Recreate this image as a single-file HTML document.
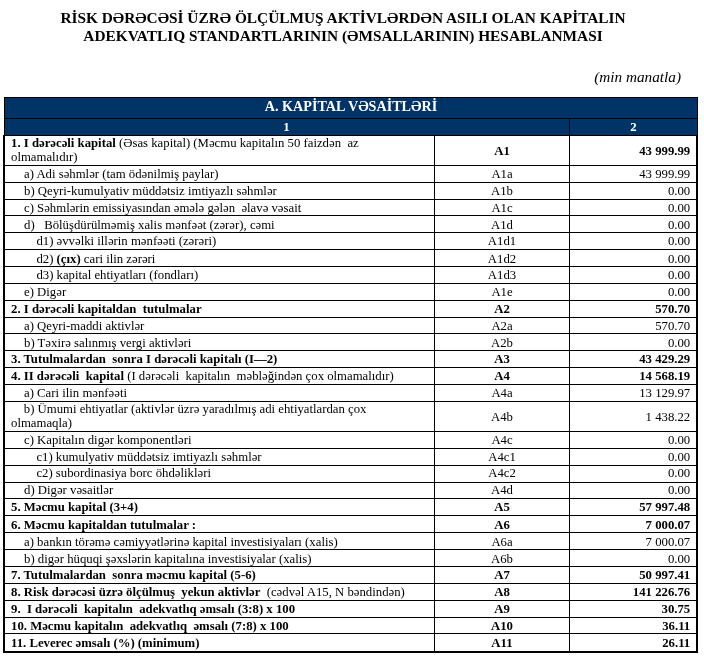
<!DOCTYPE html><html lang="az"><head><meta charset="utf-8"><title>Kapital adekvatlığı</title><style>
html,body{margin:0;padding:0;background:#fff;}
body{width:704px;height:660px;position:relative;overflow:hidden;font-family:"Liberation Serif","DejaVu Serif",serif;color:#000;}
.t{position:absolute;left:0;width:704px;text-align:center;font-weight:bold;font-size:15.35px;line-height:18.2px;white-space:nowrap;}
.u{position:absolute;font-style:italic;font-size:15.25px;line-height:18px;white-space:nowrap;}
.hd{position:absolute;background:#003366;}
.ht{position:absolute;color:#fff;font-weight:bold;text-align:center;white-space:nowrap;}
.l{position:absolute;background:#000;}
.c{position:absolute;font-size:12.76px;line-height:14px;white-space:nowrap;}
.c.b{font-weight:bold;}
.c2{left:435px;width:134px;text-align:center;}
.c3{left:570px;width:120.2px;text-align:right;}
</style></head><body>
<div class="t" style="top:9px;left:-9px">RİSK DƏRƏCƏSİ ÜZRƏ ÖLÇÜLMUŞ AKTİVLƏRDƏN ASILI OLAN KAPİTALIN</div>
<div class="t" style="top:27.3px;left:-9px">ADEKVATLIQ STANDARTLARININ (ƏMSALLARININ) HESABLANMASI</div>
<div class="u" style="top:67.5px;right:23px">(min manatla)</div>
<div class="hd" style="left:4px;top:97px;width:694px;height:38px"></div>
<div class="ht" style="left:4px;width:694px;top:95.6px;line-height:20px;font-size:14.15px">A. KAPİTAL VƏSAİTLƏRİ</div>
<div class="ht" style="left:4px;width:565px;top:119px;line-height:16px;font-size:12.8px">1</div>
<div class="ht" style="left:569px;width:129px;top:119px;line-height:16px;font-size:12.8px">2</div>
<div class="l" style="left:4px;top:97px;width:694px;height:1px"></div>
<div class="l" style="left:4px;top:118px;width:694px;height:1px"></div>
<div class="l" style="left:569px;top:118px;width:1px;height:17px"></div>
<div class="l" style="left:4px;top:97px;width:1px;height:38px"></div>
<div class="l" style="left:697px;top:97px;width:1px;height:38px"></div>
<div class="l" style="left:3px;top:135px;width:2px;height:518px"></div>
<div class="l" style="left:696px;top:135px;width:2px;height:518px"></div>
<div class="l" style="left:434px;top:135px;width:1px;height:517px"></div>
<div class="l" style="left:569px;top:135px;width:1px;height:517px"></div>
<div class="l" style="left:3px;top:135px;width:695px;height:1px"></div>
<div class="l" style="left:3px;top:165px;width:695px;height:1px"></div>
<div class="l" style="left:3px;top:182px;width:695px;height:1px"></div>
<div class="l" style="left:3px;top:199px;width:695px;height:1px"></div>
<div class="l" style="left:3px;top:215px;width:695px;height:1px"></div>
<div class="l" style="left:3px;top:232px;width:695px;height:1px"></div>
<div class="l" style="left:3px;top:249px;width:695px;height:1px"></div>
<div class="l" style="left:3px;top:266px;width:695px;height:1px"></div>
<div class="l" style="left:3px;top:283px;width:695px;height:1px"></div>
<div class="l" style="left:3px;top:300px;width:695px;height:1px"></div>
<div class="l" style="left:3px;top:317px;width:695px;height:1px"></div>
<div class="l" style="left:3px;top:333px;width:695px;height:1px"></div>
<div class="l" style="left:3px;top:350px;width:695px;height:1px"></div>
<div class="l" style="left:3px;top:367px;width:695px;height:1px"></div>
<div class="l" style="left:3px;top:384px;width:695px;height:1px"></div>
<div class="l" style="left:3px;top:401px;width:695px;height:1px"></div>
<div class="l" style="left:3px;top:431px;width:695px;height:1px"></div>
<div class="l" style="left:3px;top:448px;width:695px;height:1px"></div>
<div class="l" style="left:3px;top:465px;width:695px;height:1px"></div>
<div class="l" style="left:3px;top:482px;width:695px;height:1px"></div>
<div class="l" style="left:3px;top:498px;width:695px;height:1px"></div>
<div class="l" style="left:3px;top:515px;width:695px;height:1px"></div>
<div class="l" style="left:3px;top:532px;width:695px;height:1px"></div>
<div class="l" style="left:3px;top:549px;width:695px;height:1px"></div>
<div class="l" style="left:3px;top:566px;width:695px;height:1px"></div>
<div class="l" style="left:3px;top:583px;width:695px;height:1px"></div>
<div class="l" style="left:3px;top:600px;width:695px;height:1px"></div>
<div class="l" style="left:3px;top:617px;width:695px;height:1px"></div>
<div class="l" style="left:3px;top:633px;width:695px;height:1px"></div>
<div class="l" style="left:3px;top:651px;width:695px;height:2px"></div>
<div class="c" style="top:136px;left:11.0px"><b>1. I dərəcəli kapital</b> (Əsas kapital) (Məcmu kapitalın 50 faizdən&nbsp; az<br>olmamalıdır)</div>
<div class="c c2 b" style="top:144px">A1</div>
<div class="c c3 b" style="top:144px">43 999.99</div>
<div class="c" style="top:167px;left:24.0px">a) Adi səhmlər (tam ödənilmiş paylar)</div>
<div class="c c2" style="top:167px">A1a</div>
<div class="c c3" style="top:167px">43 999.99</div>
<div class="c" style="top:184px;left:24.0px">b) Qeyri-kumulyativ müddətsiz imtiyazlı səhmlər</div>
<div class="c c2" style="top:184px">A1b</div>
<div class="c c3" style="top:184px">0.00</div>
<div class="c" style="top:201px;left:24.0px">c) Səhmlərin emissiyasından əmələ gələn&nbsp; əlavə vəsait</div>
<div class="c c2" style="top:201px">A1c</div>
<div class="c c3" style="top:201px">0.00</div>
<div class="c" style="top:218px;left:24.0px">d)&nbsp;&nbsp; Bölüşdürülməmiş xalis mənfəət (zərər), cəmi</div>
<div class="c c2" style="top:218px">A1d</div>
<div class="c c3" style="top:218px">0.00</div>
<div class="c" style="top:234px;left:36.4px">d1) əvvəlki illərin mənfəəti (zərəri)</div>
<div class="c c2" style="top:234px">A1d1</div>
<div class="c c3" style="top:234px">0.00</div>
<div class="c" style="top:252px;left:36.4px">d2) <b>(çıx)</b> cari ilin zərəri</div>
<div class="c c2" style="top:252px">A1d2</div>
<div class="c c3" style="top:252px">0.00</div>
<div class="c" style="top:268px;left:36.4px">d3) kapital ehtiyatları (fondları)</div>
<div class="c c2" style="top:268px">A1d3</div>
<div class="c c3" style="top:268px">0.00</div>
<div class="c" style="top:285px;left:24.0px">e) Digər</div>
<div class="c c2" style="top:285px">A1e</div>
<div class="c c3" style="top:285px">0.00</div>
<div class="c b" style="top:302px;left:11.0px">2. I dərəcəli kapitaldan&nbsp; tutulmalar</div>
<div class="c c2 b" style="top:302px">A2</div>
<div class="c c3 b" style="top:302px">570.70</div>
<div class="c" style="top:319px;left:24.0px">a) Qeyri-maddi aktivlər</div>
<div class="c c2" style="top:319px">A2a</div>
<div class="c c3" style="top:319px">570.70</div>
<div class="c" style="top:336px;left:24.0px">b) Təxirə salınmış vergi aktivləri</div>
<div class="c c2" style="top:336px">A2b</div>
<div class="c c3" style="top:336px">0.00</div>
<div class="c b" style="top:352px;left:11.0px">3. Tutulmalardan&nbsp; sonra I dərəcəli kapitalı (I—2)</div>
<div class="c c2 b" style="top:352px">A3</div>
<div class="c c3 b" style="top:352px">43 429.29</div>
<div class="c" style="top:369px;left:11.0px"><b>4. II dərəcəli&nbsp; kapital</b> (I dərəcəli&nbsp; kapitalın&nbsp; məbləğindən çox olmamalıdır)</div>
<div class="c c2 b" style="top:369px">A4</div>
<div class="c c3 b" style="top:369px">14 568.19</div>
<div class="c" style="top:386px;left:24.0px">a) Cari ilin mənfəəti</div>
<div class="c c2" style="top:386px">A4a</div>
<div class="c c3" style="top:386px">13 129.97</div>
<div class="c" style="top:402px;left:11.0px">&nbsp;&nbsp;&nbsp;&nbsp;b) Ümumi ehtiyatlar (aktivlər üzrə yaradılmış adi ehtiyatlardan çox<br>olmamaqla)</div>
<div class="c c2" style="top:410px">A4b</div>
<div class="c c3" style="top:410px">1 438.22</div>
<div class="c" style="top:433px;left:24.0px">c) Kapitalın digər komponentləri</div>
<div class="c c2" style="top:433px">A4c</div>
<div class="c c3" style="top:433px">0.00</div>
<div class="c" style="top:450px;left:36.4px">c1) kumulyativ müddətsiz imtiyazlı səhmlər</div>
<div class="c c2" style="top:450px">A4c1</div>
<div class="c c3" style="top:450px">0.00</div>
<div class="c" style="top:466px;left:36.4px">c2) subordinasiya borc öhdəlikləri</div>
<div class="c c2" style="top:466px">A4c2</div>
<div class="c c3" style="top:466px">0.00</div>
<div class="c" style="top:483px;left:24.0px">d) Digər vəsaitlər</div>
<div class="c c2" style="top:483px">A4d</div>
<div class="c c3" style="top:483px">0.00</div>
<div class="c b" style="top:500px;left:11.0px">5. Məcmu kapital (3+4)</div>
<div class="c c2 b" style="top:500px">A5</div>
<div class="c c3 b" style="top:500px">57 997.48</div>
<div class="c b" style="top:518px;left:11.0px">6. Məcmu kapitaldan tutulmalar :</div>
<div class="c c2 b" style="top:518px">A6</div>
<div class="c c3 b" style="top:518px">7 000.07</div>
<div class="c" style="top:535px;left:24.0px">a) bankın törəmə cəmiyyətlərinə kapital investisiyaları (xalis)</div>
<div class="c c2" style="top:535px">A6a</div>
<div class="c c3" style="top:535px">7 000.07</div>
<div class="c" style="top:552px;left:24.0px">b) digər hüquqi şəxslərin kapitalına investisiyalar (xalis)</div>
<div class="c c2" style="top:552px">A6b</div>
<div class="c c3" style="top:552px">0.00</div>
<div class="c b" style="top:568px;left:11.0px">7. Tutulmalardan&nbsp; sonra məcmu kapital (5-6)</div>
<div class="c c2 b" style="top:568px">A7</div>
<div class="c c3 b" style="top:568px">50 997.41</div>
<div class="c" style="top:585px;left:11.0px"><b>8. Risk dərəcəsi üzrə ölçülmuş&nbsp; yekun aktivlər</b>&nbsp; (cədvəl A15, N bəndindən)</div>
<div class="c c2 b" style="top:585px">A8</div>
<div class="c c3 b" style="top:585px">141 226.76</div>
<div class="c b" style="top:602px;left:11.0px">9.&nbsp; I dərəcəli&nbsp; kapitalın&nbsp; adekvatlıq əmsalı (3:8) x 100</div>
<div class="c c2 b" style="top:602px">A9</div>
<div class="c c3 b" style="top:602px">30.75</div>
<div class="c b" style="top:619px;left:11.0px">10. Məcmu kapitalın&nbsp; adekvatlıq&nbsp; əmsalı (7:8) x 100</div>
<div class="c c2 b" style="top:619px">A10</div>
<div class="c c3 b" style="top:619px">36.11</div>
<div class="c b" style="top:636px;left:11.0px">11. Leverec əmsalı (%) (minimum)</div>
<div class="c c2 b" style="top:636px">A11</div>
<div class="c c3 b" style="top:636px">26.11</div>
</body></html>
